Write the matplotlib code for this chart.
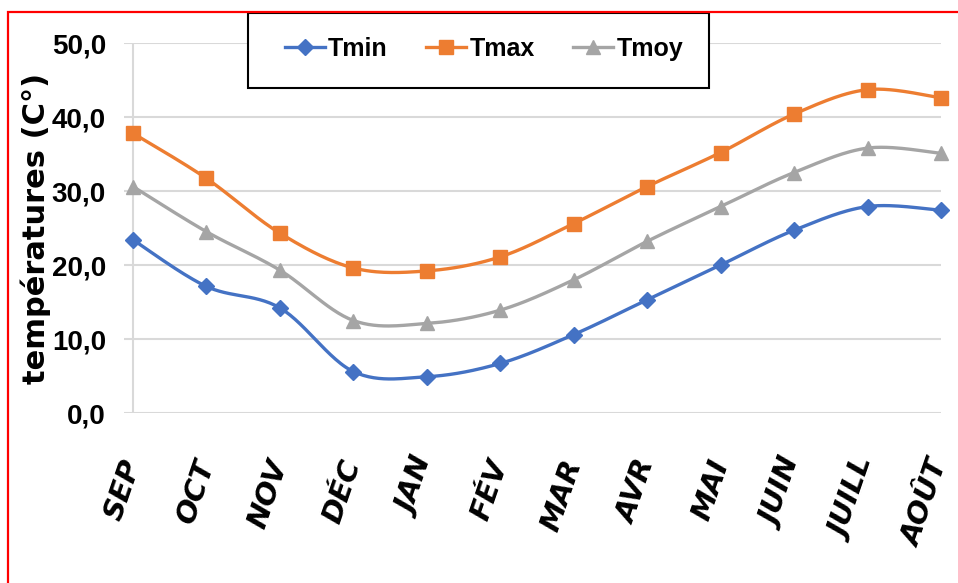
import numpy as np
import matplotlib
matplotlib.use("Agg")
import matplotlib.pyplot as plt
from matplotlib.patches import Rectangle
from matplotlib.lines import Line2D

mois = ["SEP", "OCT", "NOV", "DÉC", "JAN", "FÉV", "MAR", "AVR", "MAI", "JUIN", "JUILL", "AOÛT"]
tmin = [23.4, 17.1, 14.2, 5.6, 4.9, 6.7, 10.6, 15.3, 20.0, 24.7, 27.9, 27.4]
tmax = [37.8, 31.7, 24.3, 19.6, 19.2, 21.1, 25.6, 30.6, 35.2, 40.4, 43.7, 42.6]
tmoy = [30.6, 24.5, 19.3, 12.5, 12.1, 13.9, 18.0, 23.2, 27.9, 32.5, 35.8, 35.1]
yticks = [0, 10, 20, 30, 40, 50]

police = "Liberation Sans"


def lisse(x, y, n=30):
    # courbe lissée (bezier type catmull-rom) passant par les points
    x = np.asarray(x, float)
    y = np.asarray(y, float)
    px = np.concatenate([[x[0]], x, [x[-1]]])
    py = np.concatenate([[y[0]], y, [y[-1]]])
    xs, ys = [], []
    t = np.linspace(0, 1, n)
    for i in range(1, len(px) - 2):
        p0 = np.array([px[i], py[i]])
        p3 = np.array([px[i + 1], py[i + 1]])
        p1 = p0 + (np.array([px[i + 1], py[i + 1]]) - np.array([px[i - 1], py[i - 1]])) / 6
        p2 = p3 - (np.array([px[i + 2], py[i + 2]]) - np.array([px[i], py[i]])) / 6
        b = ((1 - t) ** 3)[:, None] * p0 + (3 * (1 - t) ** 2 * t)[:, None] * p1 \
            + (3 * (1 - t) * t ** 2)[:, None] * p2 + (t ** 3)[:, None] * p3
        xs.extend(b[:, 0])
        ys.extend(b[:, 1])
    return xs, ys


fig = plt.figure(figsize=(9.58, 5.83), dpi=100)
ax = fig.add_axes([124 / 958, 170 / 583, 817 / 958, 370 / 583])

x = np.arange(len(mois))
series = [
    ("Tmin", tmin, "#4472C4", "D", 8),
    ("Tmax", tmax, "#ED7D31", "s", 10),
    ("Tmoy", tmoy, "#A5A5A5", "^", 10),
]
handles = []
for nom, vals, col, mk, ms in series:
    sx, sy = lisse(x, vals)
    ax.plot(sx, sy, color=col, lw=2.4, zorder=3, clip_on=False)
    ax.plot(x, vals, ls="none", marker=mk, ms=ms, color=col, zorder=4, clip_on=False)
    handles.append(Line2D([], [], color=col, lw=2.4, marker=mk, ms=ms, label=nom))

ax.set_xlim(-0.1225, 11)
ax.set_ylim(0, 50)
ax.set_yticks(yticks)
ax.set_yticklabels([f"{v:.1f}".replace(".", ",") for v in yticks],
                   family=police, fontweight="bold", fontsize=20)
ax.yaxis.grid(True, color="#D9D9D9", lw=1.5)
ax.axvline(0, color="#D9D9D9", lw=1.5, zorder=1)
ax.set_axisbelow(True)
for s in ax.spines.values():
    s.set_visible(False)
ax.tick_params(length=0)
ax.tick_params(axis="y", pad=13)
ax.tick_params(axis="x", pad=34)

ax.set_xticks(x)
ax.set_xticklabels(mois, rotation=71, ha="right", va="center", rotation_mode="anchor",
                   fontsize=21, fontweight="bold", fontstyle="oblique", family="DejaVu Sans")

ax.set_ylabel("températures (C°)", fontsize=22, fontweight="bold", family="DejaVu Sans")
ax.yaxis.set_label_coords(-0.089, 0.5)

# cadre de la légende
fig.patches.append(Rectangle((248 / 958, 1 - 88 / 583), 461 / 958, 75 / 583,
                             transform=fig.transFigure, facecolor="white",
                             edgecolor="black", lw=1.5, zorder=5))
leg = fig.legend(handles=handles, loc="center", bbox_to_anchor=(484 / 958, 1 - 49 / 583),
                 ncol=3, frameon=False, prop={"family": police, "weight": "bold", "size": 18},
                 handlelength=1.6, handletextpad=0.12, columnspacing=1.55)
leg.set_zorder(6)

# bordure rouge
fig.patches.append(Rectangle((8 / 958, -0.05), 1.1, 1.05 - 12 / 583,
                             transform=fig.transFigure, fill=False,
                             edgecolor="red", lw=1.6, zorder=7, clip_on=False))

fig.savefig("out.png", dpi=100)
